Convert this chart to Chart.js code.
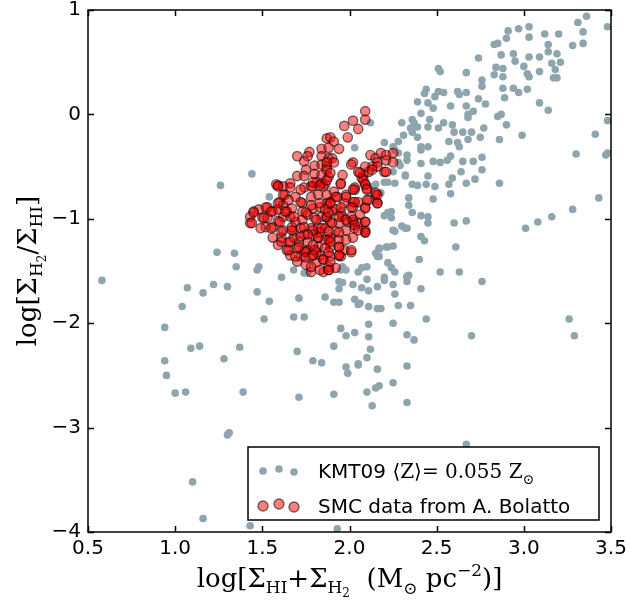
<!DOCTYPE html>
<html>
<head>
<meta charset="utf-8">
<script src="https://cdn.jsdelivr.net/npm/chart.js"></script>
<style>
  body { margin: 0; background: #fff; }
  canvas { display: block; }
</style>
</head>
<body>
<canvas id="myChart" width="629" height="603"></canvas>
<script>
// tick labels
const xTicks = [0.5, 1.0, 1.5, 2.0, 2.5, 3.0, 3.5];
const yTicks = [1, 0, -1, -2, -3, -4];

// KMT09 model points (grey)
const grayX = [3.36,3.48,3.31,3.34,3.03,2.97,2.91,2.90,2.85,2.83,3.03,3.12,3.20,3.14,3.28,3.34,3.14,3.19,3.21,3.16,
  3.18,3.17,3.19,3.09,3.03,3.00,2.94,2.95,2.87,2.74,2.84,2.88,2.83,2.88,3.03,3.02,3.09,2.94,2.97,3.02,
  2.88,2.89,2.76,2.76,2.67,2.51,2.52,2.44,2.51,2.54,2.62,2.63,2.67,2.74,2.78,2.67,2.71,2.68,2.68,2.85,
  2.87,2.90,3.09,3.14,2.99,2.58,2.49,2.48,2.45,2.43,2.39,2.41,2.36,2.30,2.37,2.39,2.35,2.31,2.36,2.39,
  2.45,2.46,2.51,2.54,2.59,2.60,2.65,2.70,2.75,2.77,2.86,2.57,2.62,2.68,2.41,2.45,2.41,2.58,2.63,2.76,
  2.48,2.52,2.56,2.41,2.65,2.71,2.76,2.64,2.45,2.32,2.25,2.20,2.28,2.28,2.33,2.59,2.67,2.72,2.86,2.36,
  2.39,2.44,2.49,2.58,2.48,2.57,2.20,2.15,2.18,2.16,2.34,2.24,2.20,2.24,2.36,2.41,2.45,2.45,2.60,2.67,
  2.32,2.30,2.25,2.41,2.43,2.21,2.25,2.17,2.15,2.16,2.22,2.24,2.33,2.40,2.52,2.61,3.01,3.08,3.16,3.28,
  3.43,3.30,3.41,3.48,3.47,3.48,2.10,2.07,1.96,2.20,2.12,2.28,2.03,2.33,2.26,2.29,2.25,2.32,2.22,2.13,
  2.26,2.34,2.22,2.26,2.33,2.17,2.22,2.17,2.05,2.26,2.34,1.95,1.44,1.26,1.24,1.34,1.35,1.47,1.61,1.68,
  1.74,1.76,1.98,1.54,1.89,1.48,0.58,1.07,1.16,1.22,1.30,1.47,1.54,1.04,0.94,1.51,1.68,1.74,1.71,1.86,
  1.91,1.94,1.94,1.94,2.02,2.03,2.05,1.95,1.98,2.03,1.91,1.70,1.09,1.14,1.37,1.28,0.94,0.95,1.79,1.84,
  1.98,1.99,2.05,1.00,1.06,1.39,1.71,1.91,1.30,1.31,1.10,1.16,1.43,1.93,2.63,2.76,2.33,2.33,2.25,2.20,
  2.16,2.10,2.07,2.11,1.96,2.26,2.41,2.06,2.11,2.16,2.18,2.28,2.35,2.44,2.25,2.11,2.11,2.33,2.37,2.70,
  2.12,2.10,2.05,2.16,2.33,2.25,2.17,2.15,2.10,2.33,2.13,3.26,3.29,2.67];
const grayY = [0.94,0.84,0.88,0.79,0.84,0.82,0.80,0.73,0.68,0.67,0.74,0.77,0.77,0.67,0.66,0.68,0.60,0.58,0.50,0.49,
  0.43,0.35,0.35,0.55,0.55,0.46,0.58,0.51,0.57,0.54,0.45,0.44,0.38,0.36,0.36,0.39,0.41,0.25,0.21,0.24,
  0.25,0.16,0.33,0.27,0.40,0.44,0.41,0.24,0.22,0.21,0.22,0.19,0.21,0.15,0.10,0.08,0.03,0.00,-0.03,-0.02,
  0.00,-0.10,0.11,0.04,-0.20,0.08,0.17,0.06,0.11,0.20,0.12,0.01,-0.05,-0.08,-0.08,-0.12,-0.13,-0.20,-0.17,-0.22,
  -0.12,-0.05,-0.13,-0.08,-0.10,-0.17,-0.17,-0.17,-0.22,-0.13,-0.24,-0.26,-0.27,-0.24,-0.31,-0.31,-0.34,-0.40,-0.31,-0.41,
  -0.45,-0.46,-0.44,-0.47,-0.45,-0.45,-0.53,-0.55,-0.59,-0.59,-0.31,-0.27,-0.37,-0.46,-0.44,-0.61,-0.66,-0.62,-0.66,-0.67,
  -0.68,-0.67,-0.69,-0.76,-0.81,-0.67,-0.65,-0.67,-0.75,-0.84,-0.87,-0.93,-0.97,-0.99,-0.94,-0.97,-0.98,-1.04,-1.04,-1.02,
  -1.09,-1.07,-1.11,-1.17,-1.21,-1.27,-1.26,-1.29,-1.33,-1.36,-1.42,-1.47,-1.55,-1.39,-1.51,-1.27,-1.09,-1.03,-0.98,-0.91,
  -0.80,-0.38,-0.19,-0.06,-0.39,-0.37,-1.46,-1.47,-1.46,-1.56,-0.08,-0.26,-0.32,-0.39,-0.34,-0.49,-0.55,-0.58,-0.65,-0.69,
  -0.66,-0.80,-0.94,-1.12,-1.09,-1.28,-1.27,-1.36,-1.51,-1.51,-1.54,-1.49,-0.57,-0.68,-1.32,-1.33,-1.46,-1.49,-1.56,-1.49,
  -1.52,-1.52,-1.49,-0.79,-0.82,-1.46,-1.59,-1.66,-1.71,-1.63,-1.65,-1.70,-1.79,-1.84,-2.04,-1.96,-1.94,-1.94,-1.76,-1.75,
  -1.80,-1.80,-1.67,-1.60,-1.63,-1.77,-1.82,-2.05,-2.12,-2.09,-2.22,-2.27,-2.24,-2.22,-2.23,-2.34,-2.36,-2.50,-2.36,-2.38,
  -2.42,-2.48,-2.40,-2.67,-2.66,-2.66,-2.71,-2.68,-3.07,-3.05,-3.52,-3.87,-3.94,-3.97,-1.51,-1.60,-1.56,-1.60,-1.63,-1.59,
  -1.65,-1.58,-1.66,-1.69,-1.61,-1.72,-1.67,-1.81,-1.84,-1.86,-1.86,-1.83,-1.83,-1.96,-2.00,-2.01,-2.13,-2.11,-2.16,-2.12,
  -2.25,-2.33,-2.39,-2.44,-2.41,-2.57,-2.60,-2.62,-2.66,-2.76,-2.79,-1.96,-2.12,-3.16];

// SMC data (red)
const redX = [1.87,1.84,1.77,1.76,1.70,1.74,1.84,1.88,1.80,1.84,1.87,1.75,1.70,1.74,1.80,1.84,1.81,1.84,1.59,1.58,
  1.66,1.62,1.79,1.74,2.09,2.09,2.02,1.97,2.05,1.99,1.89,1.91,1.94,1.88,1.90,1.91,1.87,2.02,2.01,2.12,
  2.15,2.18,2.21,2.25,2.21,2.25,2.16,2.13,2.09,2.11,2.08,2.05,2.20,2.07,2.08,1.95,2.09,2.03,1.87,1.88,
  1.86,2.03,2.11,2.15,2.09,2.02,1.97,1.96,2.02,2.09,2.02,2.01,1.97,1.95,2.16,1.59,1.66,1.72,1.78,1.85,
  1.60,1.53,1.45,1.43,1.43,1.50,1.56,1.59,1.62,1.67,1.73,1.73,1.79,1.83,1.87,1.52,1.56,1.59,1.62,1.66,
  1.69,1.73,1.76,1.80,1.84,1.87,1.62,1.68,1.74,1.78,1.82,1.86,1.56,1.61,1.65,1.71,1.76,1.82,1.86,1.59,
  1.64,1.70,1.76,1.82,1.66,1.72,1.78,1.83,1.70,1.75,1.81,1.85,1.78,1.85,1.88,2.10,2.15,2.16,2.05,1.98,
  1.93,1.89,2.02,2.09,1.90,1.95,2.01,2.06,1.89,1.94,1.99,2.05,2.09,1.92,1.98,2.03,2.09,1.89,1.94,1.94,
  1.89,1.94,1.89,1.92,1.63,1.69,1.78,1.82,1.67,1.72,1.79,1.83,1.68,1.79,1.74,1.92,1.86,1.53,1.48,1.49,
  1.64,1.91,1.98,1.81,
  1.79,1.83,1.87,1.62,1.59,1.65,1.72,1.78,1.83,1.87,1.52,1.45,1.44,1.51,1.55,1.63,1.68,1.75,1.81,1.87,
  1.55,1.60,1.61,1.67,1.74,1.79,1.84,1.61,1.66,1.72,1.76,1.82,1.88,1.65,1.71,1.75,1.80,1.86,1.69,1.75,
  1.79,1.85,1.78,1.83,1.88,1.89,1.96,2.06,2.13,2.21,1.95,2.02,2.09,2.10,2.16,2.16,2.10,1.92,1.98,2.03,
  1.89,1.95,2.01,1.88,1.94,1.98,1.90,2.02,2.03,2.09,2.09,2.05,1.88,1.94,1.89,1.94,2.01,1.88,1.94,1.89,
  1.88];
const redY = [-0.23,-0.33,-0.36,-0.40,-0.40,-0.45,-0.40,-0.42,-0.49,-0.48,-0.50,-0.53,-0.59,-0.59,-0.57,-0.58,-0.65,-0.66,-0.68,-0.67,
  -0.66,-0.69,-0.69,-0.70,0.03,-0.05,-0.06,-0.11,-0.14,-0.22,-0.22,-0.26,-0.33,-0.32,-0.42,-0.46,-0.46,-0.46,-0.48,-0.39,
  -0.42,-0.37,-0.39,-0.37,-0.44,-0.46,-0.46,-0.50,-0.50,-0.55,-0.58,-0.55,-0.55,-0.61,-0.63,-0.66,-0.67,-0.70,-0.53,-0.60,
  -0.67,-0.72,-0.82,-0.77,-0.89,-0.84,-0.85,-0.98,-1.03,-1.11,-1.18,-1.32,-1.30,-1.36,-0.50,-0.69,-0.70,-0.72,-0.69,-0.69,
  -0.84,-0.89,-0.93,-0.98,-1.04,-0.99,-0.93,-0.91,-0.87,-0.90,-0.85,-0.93,-0.90,-0.89,-0.85,-1.08,-1.08,-1.02,-0.98,-0.98,
  -1.03,-1.01,-0.96,-0.99,-0.98,-0.99,-1.11,-1.12,-1.15,-1.09,-1.08,-1.09,-1.18,-1.18,-1.23,-1.22,-1.22,-1.18,-1.20,-1.25,
  -1.30,-1.28,-1.30,-1.27,-1.35,-1.36,-1.36,-1.35,-1.41,-1.44,-1.42,-1.39,-1.51,-1.51,-1.46,-0.71,-0.75,-0.85,-0.84,-0.77,
  -0.79,-0.84,-0.89,-0.90,-0.93,-0.94,-0.98,-0.96,-1.03,-1.04,-1.03,-1.04,-1.03,-1.12,-1.11,-1.09,-1.13,-1.18,-1.20,-1.27,
  -1.27,-1.35,-1.36,-1.47,-0.77,-0.79,-0.79,-0.77,-1.08,-1.09,-1.15,-1.13,-1.18,-1.25,-1.31,-0.91,-0.91,-0.99,-0.91,-1.09,
  -0.93,-0.74,-1.20,-1.32,
  -0.65,-0.68,-0.63,-0.77,-0.85,-0.82,-0.84,-0.87,-0.85,-0.77,-0.89,-0.94,-1.04,-0.99,-0.93,-0.93,-0.98,-0.94,-1.01,-0.98,
  -1.09,-1.03,-1.12,-1.11,-1.08,-1.11,-1.09,-1.22,-1.22,-1.17,-1.15,-1.18,-1.20,-1.30,-1.27,-1.32,-1.30,-1.28,-1.36,-1.37,
  -1.35,-1.39,-1.46,-1.49,-1.49,-0.56,-0.58,-0.56,-0.53,-0.55,-0.67,-0.72,-0.67,-0.72,-0.77,-0.85,-0.82,-0.79,-0.79,-0.84,
  -0.85,-0.89,-0.89,-0.94,-0.98,-1.01,-1.04,-1.01,-1.06,-1.03,-1.13,-1.11,-1.12,-1.13,-1.22,-1.27,-1.30,-1.32,-1.35,-1.41,
  -1.49];

const grayCol = '#8fa5ad';
const redFill = 'rgba(255,0,0,0.5)';
const redEdge = 'rgba(0,0,0,0.55)';
const SERIF = '"DejaVu Serif", serif';
const SANS = '"DejaVu Sans", sans-serif';

function pts(xs, ys) { return xs.map((v, i) => ({ x: v, y: ys[i] })); }

// draws a run of text pieces [text, size, dy, family]
function rich(ctx, parts, cx, cy) {
  let w = 0;
  parts.forEach(p => { ctx.font = p[1] + 'px ' + (p[3] || SERIF); w += ctx.measureText(p[0]).width; });
  let x = cx - w / 2;
  parts.forEach(p => {
    ctx.font = p[1] + 'px ' + (p[3] || SERIF);
    ctx.fillText(p[0], x, cy + (p[2] || 0));
    x += ctx.measureText(p[0]).width;
  });
}
function richLeft(ctx, parts, x, cy) {
  parts.forEach(p => {
    ctx.font = p[1] + 'px ' + (p[3] || SERIF);
    ctx.fillText(p[0], x, cy + (p[2] || 0));
    x += ctx.measureText(p[0]).width;
  });
}

const decor = {
  id: 'decor',
  afterDraw(chart) {
    const ctx = chart.ctx, a = chart.chartArea;
    const sx = chart.scales.x, sy = chart.scales.y;
    ctx.save();
    ctx.strokeStyle = '#000';
    ctx.lineWidth = 1.5;
    // ticks inward on all sides
    ctx.beginPath();
    xTicks.forEach(v => {
      const p = Math.round(sx.getPixelForValue(v)) + 0.5;
      ctx.moveTo(p, a.bottom); ctx.lineTo(p, a.bottom - 6);
      ctx.moveTo(p, a.top); ctx.lineTo(p, a.top + 6);
    });
    yTicks.forEach(v => {
      const p = Math.round(sy.getPixelForValue(v)) + 0.5;
      ctx.moveTo(a.left, p); ctx.lineTo(a.left + 6, p);
      ctx.moveTo(a.right, p); ctx.lineTo(a.right - 6, p);
    });
    ctx.stroke();
    ctx.strokeRect(a.left, a.top, a.right - a.left, a.bottom - a.top);

    // legend box
    const lw = 351, lh = 73;
    const lx = a.right - 12 - lw, ly = a.bottom - 12 - lh;
    ctx.fillStyle = '#fff';
    ctx.fillRect(lx, ly, lw, lh);
    ctx.strokeRect(lx, ly, lw, lh);
    const gOff = [24, 22, 25], rOff = [59, 57, 60], mx = [15, 31, 46];
    mx.forEach((dx, i) => {
      ctx.fillStyle = grayCol;
      ctx.beginPath(); ctx.arc(lx + dx, ly + gOff[i], 3.8, 0, Math.PI * 2); ctx.fill();
    });
    mx.forEach((dx, i) => {
      ctx.beginPath(); ctx.arc(lx + dx, ly + rOff[i], 5, 0, Math.PI * 2);
      ctx.fillStyle = redFill; ctx.fill();
      ctx.lineWidth = 1.4; ctx.strokeStyle = redEdge; ctx.stroke();
    });
    ctx.fillStyle = '#000';
    ctx.textBaseline = 'alphabetic';
    richLeft(ctx, [['KMT09 ', 20, 0, SANS], ['\u27E8Z\u27E9', 20], ['= 0.055 Z', 20], ['\u2299', 14, 6]], lx + 70, ly + 31);
    richLeft(ctx, [['SMC data from A. Bolatto', 20, 0, SANS]], lx + 70, ly + 66);

    // axis titles
    const B = 26, S = 17, SS = 12;
    rich(ctx, [['log[\u03A3', B], ['HI', S, 6], ['+\u03A3', B], ['H', S, 6], ['2', SS, 10],
      ['  (M', B], ['\u2299', S, 7], [' pc', B], ['\u22122', S, -11], [')]', B]],
      (a.left + a.right) / 2, 587);
    ctx.translate(36, (a.top + a.bottom) / 2);
    ctx.rotate(-Math.PI / 2);
    rich(ctx, [['log[\u03A3', B], ['H', S, 6], ['2', SS, 10], ['/\u03A3', B], ['HI', S, 6], [']', B]], 0, 0);
    ctx.restore();
  }
};

const ctx = document.getElementById('myChart').getContext('2d');
const myChart = new Chart(ctx, {
  type: 'scatter',
  data: {
    datasets: [{
      label: 'SMC data from A. Bolatto',
      data: pts(redX, redY),
      backgroundColor: redFill,
      borderColor: redEdge,
      borderWidth: 1.4,
      pointRadius: 4.7,
      order: 1
    }, {
      label: 'KMT09',
      data: pts(grayX, grayY),
      backgroundColor: grayCol,
      borderWidth: 0,
      pointRadius: 3.8,
      order: 2
    }]
  },
  options: {
    responsive: false,
    animation: false,
    devicePixelRatio: 1,
    layout: { padding: { top: 10, right: 18, left: 0, bottom: 0 } },
    plugins: { legend: { display: false }, tooltip: { enabled: false } },
    scales: {
      x: {
        type: 'linear', min: 0.5, max: 3.5,
        afterBuildTicks: s => { s.ticks = xTicks.map(v => ({ value: v })); },
        afterFit: s => { s.height = 71; s.paddingLeft = 0; s.paddingRight = 0; },
        ticks: { callback: v => v.toFixed(1), color: '#000', padding: 5, maxRotation: 0,
          font: { family: 'DejaVu Sans', size: 20 } },
        grid: { display: false, drawTicks: false },
        border: { display: false }
      },
      y: {
        type: 'linear', min: -4, max: 1,
        afterBuildTicks: s => { s.ticks = yTicks.map(v => ({ value: v })); },
        afterFit: s => { s.width = 88; s.paddingTop = 0; s.paddingBottom = 0; },
        ticks: { callback: v => v < 0 ? '\u2212' + Math.abs(v) : '' + v, color: '#000', padding: 7,
          font: { family: 'DejaVu Sans', size: 20 } },
        grid: { display: false, drawTicks: false },
        border: { display: false }
      }
    }
  },
  plugins: [decor]
});
</script>
</body>
</html>
